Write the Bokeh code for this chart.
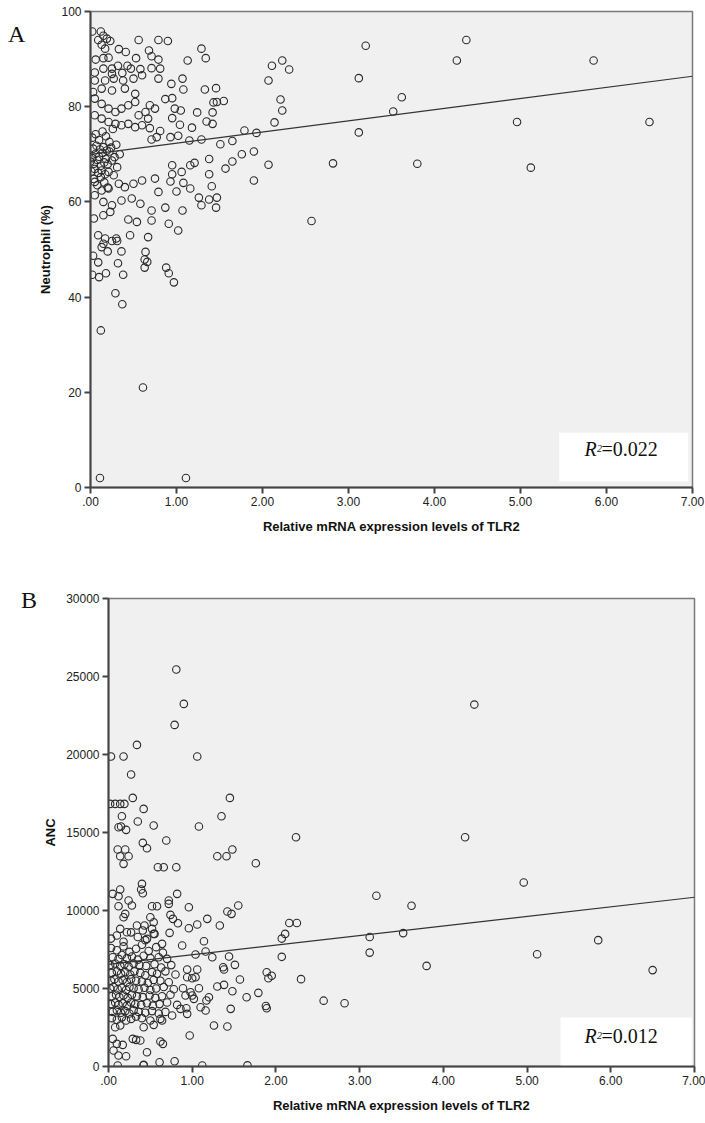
from bokeh.plotting import figure
from bokeh.layouts import row
from bokeh.models import Label, BoxAnnotation, FixedTicker, Div
from bokeh.embed import file_html
from bokeh.resources import INLINE

# ---------------- Panel A data (TLR2 vs Neutrophil %) ----------------
a_x = [0.02,0.12,0.15,0.09,0.19,0.23,0.13,0.17,0.56,0.79,0.90,0.33,0.41,0.68,0.71,1.29,1.34,1.13,
       0.06,0.15,0.21,0.53,0.79,0.81,0.71,0.43,0.32,0.25,0.15,0.05,0.25,0.37,0.47,0.58,0.60,0.50,
       0.38,0.27,0.17,0.05,0.79,0.94,1.07,1.08,1.33,1.46,0.87,0.95,0.03,0.13,0.25,0.40,0.52,0.69,
       0.75,0.98,1.05,1.24,1.43,1.47,1.55,1.42,1.35,1.42,0.95,1.04,1.18,0.05,0.13,0.21,0.29,0.36,
       0.44,0.52,0.56,0.64,0.67,0.05,0.13,0.21,0.29,0.36,0.44,0.52,0.60,0.69,0.81,0.77,0.71,0.93,
       1.02,1.15,1.29,1.51,1.65,1.79,1.93,1.90,1.76,1.65,1.57,1.38,1.21,1.16,0.95,1.06,0.95,0.93,
       1.08,1.38,1.41,1.16,1.00,1.26,1.38,1.47,1.46,1.29,1.07,0.87,0.71,0.79,0.75,0.60,0.50,0.40,
       0.33,0.21,0.13,0.05,0.05,0.15,0.25,0.36,0.48,0.58,0.44,0.54,0.71,0.91,1.02,0.67,0.46,0.30,
       0.17,0.09,0.04,0.15,0.23,1.90,
       0.03,0.13,0.15,0.25,0.31,0.20,0.09,0.36,0.32,0.02,0.10,0.18,0.38,0.64,0.63,0.66,0.63,0.88,
       0.91,0.97,0.29,0.37,0.12,0.61,0.11,1.11,
       0.00,0.02,0.04,0.06,0.08,0.10,0.12,0.14,0.16,0.18,0.20,0.22,0.25,0.28,0.31,0.34,0.01,0.03,
       0.05,0.07,0.09,0.11,0.13,0.15,0.17,0.19,0.21,0.24,0.27,0.30,0.02,0.06,0.10,0.14,0.18,0.22,
       0.26,0.04,0.08,0.12,0.16,0.20,
       2.07,2.11,2.23,2.31,2.21,2.23,2.14,2.07,2.82,2.57,3.12,3.20,3.12,3.52,3.62,3.80,4.26,4.37,
       4.96,5.12,5.85,6.50]
a_y = [95.8,95.8,94.9,94.0,94.3,93.8,93.0,92.2,94.0,94.0,93.8,92.1,91.5,91.8,90.6,92.2,90.2,89.7,
       89.9,90.2,90.3,90.2,89.9,88.0,88.1,88.6,88.6,88.0,88.0,87.2,86.9,87.1,88.0,87.9,86.6,85.9,
       85.5,85.9,85.5,85.5,85.9,84.8,85.9,83.6,83.6,83.9,81.6,81.8,83.1,83.8,83.4,83.8,82.7,80.3,
       79.6,79.6,79.2,78.8,80.9,81.0,81.2,78.8,76.9,76.4,77.6,76.2,75.6,81.7,80.6,79.6,78.9,79.6,
       80.3,81.0,78.2,78.9,77.5,78.2,77.5,76.8,76.4,76.1,76.4,75.7,76.1,75.5,74.9,73.6,73.1,73.6,
       73.9,72.9,73.1,72.1,72.8,75.0,74.5,70.6,70.0,68.5,67.0,69.0,68.2,67.7,67.7,66.3,65.8,64.3,
       64.0,65.8,63.3,62.8,62.2,60.9,60.5,60.9,58.8,59.3,58.2,58.8,58.2,62.1,64.9,64.5,63.8,63.1,
       63.8,62.8,62.4,64.2,61.4,60.0,59.3,60.3,60.7,59.6,56.3,55.8,56.1,55.4,54.0,52.6,53.0,52.3,
       52.3,53.0,56.5,57.2,57.9,64.5,
       48.7,50.5,51.2,51.8,51.8,49.6,47.3,49.6,47.1,44.7,44.2,45.0,44.7,49.5,47.9,47.4,46.2,46.2,
       45.0,43.1,40.8,38.5,33.0,21.0,2.0,2.0,
       68.5,69.2,68.0,70.1,68.8,69.5,67.6,70.3,68.3,69.0,67.9,70.6,68.7,69.4,67.3,70.0,66.4,71.2,
       66.9,71.8,66.1,71.0,66.6,71.5,65.8,70.8,66.3,71.4,65.6,72.0,73.5,74.2,73.0,74.8,73.8,72.6,
       75.3,64.8,63.5,65.2,64.1,63.0,
       85.5,88.6,89.7,87.8,81.5,79.2,76.7,67.8,68.1,56.0,86.0,92.8,74.6,79.0,82.0,68.0,89.7,94.0,
       76.8,67.2,89.7,76.8]
a_fit_x = [0.0, 7.0]
a_fit_y = [70.0, 86.4]

# ---------------- Panel B data (TLR2 vs ANC) ----------------
b_x = [0.81,0.90,0.79,0.34,0.03,0.18,1.06,0.27,0.29,1.45,
       0.02,0.08,0.14,0.19,0.42,0.16,1.35,0.35,0.54,1.08,
       0.15,0.12,0.21,
       0.41,0.46,0.69,0.11,0.20,0.14,0.24,0.18,0.59,0.66,
       0.81,1.30,1.41,1.48,1.76,0.05,0.14,0.12,0.40,0.39,
       0.41,0.82,0.24,0.12,0.28,0.52,0.58,0.72,0.72,0.96,
       1.55,1.42,1.47,0.20,0.18,0.74,0.77,0.83,0.50,0.54,
       1.18,1.06,0.96,1.33,0.34,0.43,0.14,0.22,0.41,0.52,
       0.54,0.73,0.46,0.64,0.88,1.14,1.16,1.24,1.04,1.44,
       1.37,1.38,1.51,1.57,1.89,1.91,1.79,1.65,1.48,1.38,
       1.30,1.20,1.17,1.08,1.10,1.16,1.46,1.89,0.98,1.02,
       0.94,1.06,0.94,1.00,1.04,0.89,0.92,1.00,0.93,0.94,
       0.86,0.76,0.64,0.54,0.42,0.08,0.14,1.26,1.42,0.97,
       0.29,0.33,0.38,0.62,0.65,0.05,0.10,0.17,0.06,0.46,
       0.12,0.21,0.61,0.79,0.42,0.11,0.42,1.12,1.66,
       0.03,0.10,0.18,0.25,0.33,0.40,0.48,0.57,0.65,
       0.05,0.12,0.16,0.22,0.28,0.35,0.42,0.50,0.60,0.70,
       0.02,0.08,0.14,0.19,0.24,0.30,0.37,0.45,0.55,0.63,0.75,
       0.04,0.10,0.15,0.20,0.26,0.31,0.38,0.44,0.52,0.58,0.68,0.80,
       0.03,0.07,0.12,0.17,0.22,0.27,0.33,0.40,0.47,0.54,0.62,0.72,
       0.02,0.06,0.11,0.16,0.21,0.25,0.30,0.36,0.43,0.50,0.57,0.66,0.78,
       0.04,0.09,0.13,0.18,0.23,0.28,0.34,0.41,0.49,0.56,0.64,0.74,
       0.03,0.08,0.12,0.17,0.22,0.27,0.32,0.39,0.46,0.53,0.61,0.70,0.82,
       0.05,0.10,0.15,0.20,0.25,0.30,0.36,0.44,0.52,0.60,0.68,
       0.04,0.10,0.16,0.21,0.27,0.33,0.40,0.50,0.62,
       0.03,0.10,0.18,0.27,0.35,0.44,0.55,
       2.07,2.11,2.16,2.25,2.24,2.07,2.30,2.57,2.82,3.12,
       3.12,3.20,3.52,3.62,3.80,4.26,4.37,4.96,5.12,5.85,
       6.50,1.95,1.88]
b_y = [25446,23245,21898,20616,19868,19868,19868,18714,17218,17218,
       16834,16834,16834,16834,16513,16043,16043,15701,15445,15380,
       15380,15340,15170,
       14337,13995,14486,13909,13909,13482,13482,12990,12777,12777,
       12777,13482,13482,13909,13033,11067,11345,10918,11708,11345,
       11110,11067,10640,10276,10319,10276,10276,10640,10426,10212,
       10319,9935,9785,9785,9571,9721,9464,9187,9571,9251,
       9464,9101,8866,9037,9037,9037,8823,8610,8717,8823,
       8503,8567,8182,7862,7755,8033,7370,7007,7178,7050,
       6366,6216,6515,5575,6045,5660,4720,4442,4827,5233,
       5126,4442,4229,5019,3801,3588,3695,3737,4763,4335,
       6216,6216,5725,5660,5725,5019,4549,4549,3737,3374,
       3695,3267,2947,2669,2519,2519,2626,2626,2562,1985,
       1772,1707,1665,1600,1451,1772,1451,1387,1024,917,
       703,660,276,340,105,60,80,60,70,
       7600,7450,7700,7350,7550,7800,7400,7650,7300,
       7000,6900,7150,6950,7050,6850,7100,6950,7000,6900,
       6500,6600,6450,6550,6400,6600,6500,6450,6550,6350,6500,
       6000,6100,5950,6050,5900,6100,6000,5850,6050,5950,6100,5900,
       5500,5600,5450,5550,5400,5600,5500,5450,5350,5550,5500,5400,
       5000,5100,4950,5050,4900,5100,5000,4950,5050,4900,5000,5100,4950,
       4500,4600,4450,4550,4400,4600,4500,4450,4550,4400,4500,4600,
       4000,4100,3950,4050,3900,4100,4000,3950,4050,3900,4000,4100,3950,
       3500,3600,3450,3550,3400,3600,3500,3450,3550,3400,3500,
       3100,3000,3150,2950,3050,3200,3100,2950,3050,
       8200,8400,8000,8600,8300,8100,8500,
       7030,8500,9200,9200,14700,8200,5600,4220,4050,7300,
       8300,10950,8550,10300,6450,14700,23200,11800,7200,8100,
       6180,5820,3880]
b_fit_x = [0.0, 7.0]
b_fit_y = [6550, 10850]

assert len(a_x) == len(a_y), (len(a_x), len(a_y))
assert len(b_x) == len(b_y), (len(b_x), len(b_y))

x_ticks = [0, 1, 2, 3, 4, 5, 6, 7]
x_tick_labels = [".00", "1.00", "2.00", "3.00", "4.00", "5.00", "6.00", "7.00"]
a_y_ticks = [0, 20, 40, 60, 80, 100]
b_y_ticks = [0, 5000, 10000, 15000, 20000, 25000, 30000]

x_title = "Relative mRNA expression levels of TLR2"

SANS = "Liberation Sans"
SERIF = "Liberation Serif"
PT_COLOR = "#2b2b2b"


def letter_div(letter, width, height, left, top):
    html = ('<div style="padding:%dpx 0 0 %dpx; margin:0; font-family:\'Liberation Serif\';'
            ' font-size:24px; line-height:24px; color:#111111;">%s</div>' % (top, left, letter))
    return Div(text=html, width=width, height=height, margin=0)


def make_panel(xs, ys, fit_x, fit_y, y_ticks, y_end, y_title, width, height,
               b_top, b_bottom, b_left, b_right, box, r2_text, r2_pos, label_standoff):
    p = figure(width=width, height=height, x_range=(0, 7), y_range=(0, y_end),
               output_backend="svg", toolbar_location=None,
               min_border_top=b_top, min_border_bottom=b_bottom,
               min_border_left=b_left, min_border_right=b_right)
    p.background_fill_color = "#f0f0f0"
    p.border_fill_color = "white"
    p.outline_line_color = "#7a7a7a"
    p.outline_line_width = 1.5
    p.grid.visible = False

    p.xaxis.ticker = FixedTicker(ticks=x_ticks)
    p.xaxis.major_label_overrides = {t: l for t, l in zip(x_ticks, x_tick_labels)}
    p.yaxis.ticker = FixedTicker(ticks=y_ticks)
    for ax in (p.xaxis[0], p.yaxis[0]):
        ax.axis_line_color = "#444444"
        ax.axis_line_width = 2
        ax.major_tick_line_color = "#444444"
        ax.major_tick_line_width = 2
        ax.major_tick_out = 6
        ax.major_tick_in = 0
        ax.minor_tick_line_color = None
        ax.major_label_text_font = SANS
        ax.major_label_text_font_size = "12px"
        ax.major_label_text_color = "#222222"
        ax.axis_label_text_font = SANS
        ax.axis_label_text_font_size = "13px"
        ax.axis_label_text_font_style = "bold"
        ax.axis_label_text_color = "#111111"
    p.xaxis.axis_label = x_title
    p.yaxis.axis_label = y_title
    p.xaxis.major_label_standoff = 3
    p.yaxis.major_label_standoff = 3
    p.xaxis.axis_label_standoff = 10
    p.yaxis.axis_label_standoff = label_standoff

    p.add_layout(BoxAnnotation(left=box[0], right=box[1], bottom=box[2], top=box[3],
                               fill_color="white", fill_alpha=1.0, line_color=None,
                               level="underlay"))

    p.scatter(xs, ys, marker="circle", size=7.5, fill_color=None,
              line_color=PT_COLOR, line_width=1.1)
    p.line(fit_x, fit_y, line_color="#333333", line_width=1.2)

    rx, ry = r2_pos
    p.add_layout(Label(x=rx, y=ry, x_units="screen", y_units="screen", text="R",
                       text_font=SERIF, text_font_style="italic",
                       text_font_size="20px", text_color="#111111"))
    p.add_layout(Label(x=rx + 12.5, y=ry + 8, x_units="screen", y_units="screen", text="2",
                       text_font=SERIF, text_font_style="italic",
                       text_font_size="10px", text_color="#111111"))
    p.add_layout(Label(x=rx + 17, y=ry, x_units="screen", y_units="screen", text=r2_text,
                       text_font=SERIF, text_font_size="20px", text_color="#111111"))
    return p


# Panel A: frame x 90..692, y 11..487 (page px)
la = letter_div("A", 30, 560, 8, 22)
pa = make_panel(a_x, a_y, a_fit_x, a_fit_y, a_y_ticks, 100, "Neutrophil (%)", 675, 560,
                11, 73, 60, 13, (5.45, 6.95, 1.3, 11.5), "=0.022", (494, 28), 5)
# Panel B: frame x 108..694, y 598..1066 (page px); figure starts at page y 560
lb = letter_div("B", 40, 563, 21, 28)
pb = make_panel(b_x, b_y, b_fit_x, b_fit_y, b_y_ticks, 30000, "ANC", 665, 563,
                38, 57, 68, 11, (5.40, 6.97, 0, 3140), "=0.012", (476, 20), 5)

rowA = row(la, pa, spacing=0)
rowB = row(lb, pb, spacing=0)
open("out.html", "w").write(file_html([rowA, rowB], INLINE))
